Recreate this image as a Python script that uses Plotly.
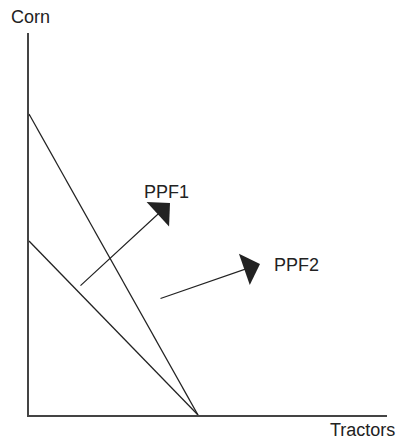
import plotly.graph_objects as go

# Data (pixel-like units: origin at the axis corner)
ppf_steep_x = [0, 169]
ppf_steep_y = [301, 0]
ppf_flat_x = [0, 169]
ppf_flat_y = [174, 0]

arrow1_start = (50, 128)
arrow1_end = (141, 212)
arrow2_start = (130, 116)
arrow2_end = (231, 151)

label1 = ("PPF1", 137, 223)
label2 = ("PPF2", 243, 150)

x_label = "Tractors"
y_label = "Corn"

line_color = "#222222"
axis_color = "#444444"
font = dict(family="Liberation Sans, Arial, sans-serif", size=18, color="#222222")

fig = go.Figure()
fig.add_trace(go.Scatter(x=ppf_steep_x, y=ppf_steep_y, mode="lines",
                         line=dict(color=line_color, width=1.3), hoverinfo="skip"))
fig.add_trace(go.Scatter(x=ppf_flat_x, y=ppf_flat_y, mode="lines",
                         line=dict(color=line_color, width=1.3), hoverinfo="skip"))

for (sx, sy), (ex, ey) in [(arrow1_start, arrow1_end), (arrow2_start, arrow2_end)]:
    fig.add_annotation(x=ex, y=ey, ax=sx, ay=sy, xref="x", yref="y",
                       axref="x", ayref="y", text="", showarrow=True,
                       arrowhead=1, arrowsize=4.6, arrowwidth=1.2,
                       arrowcolor=line_color, standoff=0, startstandoff=0)

fig.add_annotation(x=label1[1], y=label1[2], text=label1[0], showarrow=False,
                   xref="x", yref="y", xanchor="center", yanchor="middle", font=font)
fig.add_annotation(x=label2[1], y=label2[2], text=label2[0], showarrow=False,
                   xref="x", yref="y", xanchor="left", yanchor="middle", font=font)

fig.add_annotation(x=1 / 358, y=1 + 16 / 382, xref="paper", yref="paper", text=y_label,
                   showarrow=False, xanchor="center", yanchor="middle", font=font)
fig.add_annotation(x=368 / 358, y=-15 / 382, xref="paper", yref="paper", text=x_label,
                   showarrow=False, xanchor="right", yanchor="middle", font=font)

fig.update_xaxes(range=[0, 358], showline=True, linecolor=axis_color, linewidth=1.5,
                 showgrid=False, zeroline=False, showticklabels=False, ticks="")
fig.update_yaxes(range=[0, 382], showline=True, linecolor=axis_color, linewidth=1.5,
                 showgrid=False, zeroline=False, showticklabels=False, ticks="")

fig.update_layout(width=399, height=441, margin=dict(l=29, r=12, t=33, b=26),
                  paper_bgcolor="white", plot_bgcolor="white", showlegend=False,
                  font=font)

fig.write_html("out.html", config={"displayModeBar": False},
               post_script="document.body.style.margin='0';document.body.style.overflow='hidden';")
